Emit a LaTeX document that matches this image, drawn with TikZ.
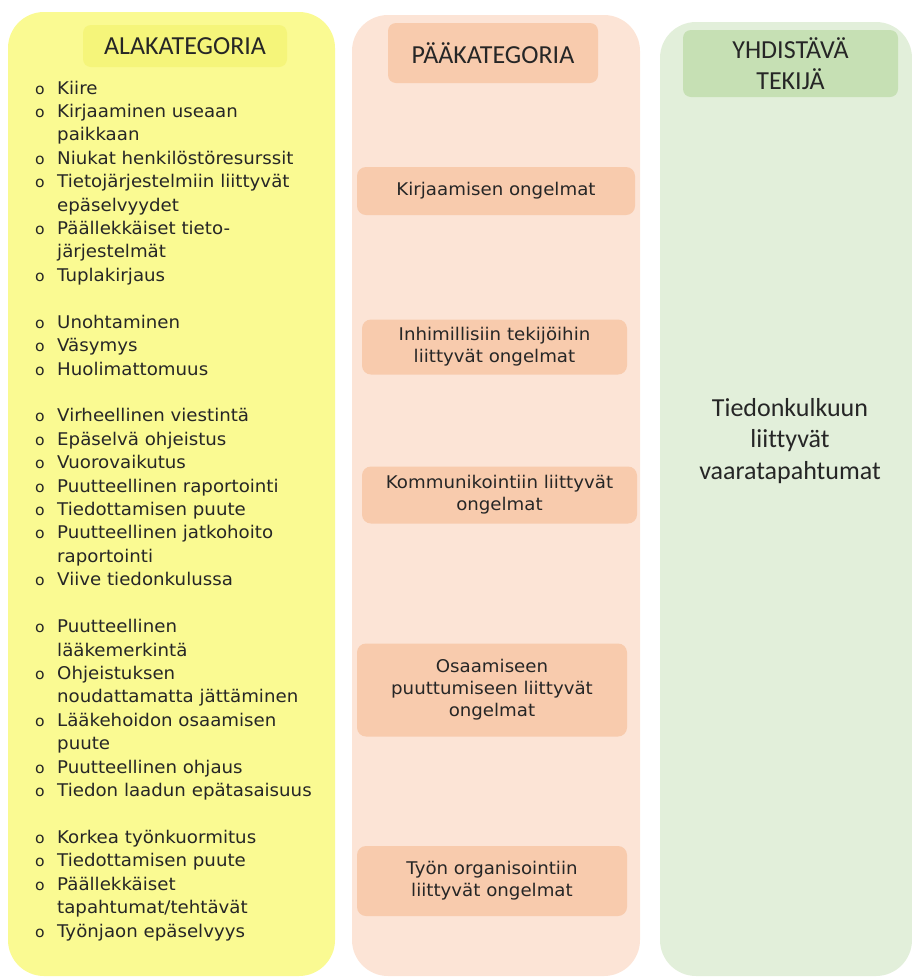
\documentclass[tikz,border=0pt]{standalone}
\usepackage{fontspec}
\setmainfont{DejaVu Sans}
\newfontfamily\hdfont[Ligatures=NoCommon]{Carlito}
\newfontfamily\lstfont[FakeStretch=1.04]{DejaVu Sans}
\usepackage{xcolor}
\usepackage{tikz}
\definecolor{yelc}{HTML}{FAFA92}
\definecolor{yelh}{HTML}{F5F57A}
\definecolor{pchc}{HTML}{FCE4D6}
\definecolor{pchb}{HTML}{F8CBAD}
\definecolor{grnc}{HTML}{E2EFDA}
\definecolor{grnh}{HTML}{C6E0B4}
\definecolor{txtc}{HTML}{262626}
\newcommand{\lbul}{{\fontsize{15}{15}\selectfont o}}
\tikzset{
  col/.style={rounded corners=36pt},
  hd/.style={rounded corners=8pt,align=center,inner sep=0pt,text=txtc,font=\hdfont\fontsize{26}{31}\selectfont},
  cat/.style={fill=pchb,rounded corners=9pt,align=center,inner sep=0pt,text=txtc,font=\lstfont\fontsize{17.5}{22}\selectfont}
}

\begin{document}
\begin{tikzpicture}[x=1pt,y=-1pt]
\useasboundingbox (0,0) rectangle (912,978);
% the three columns
\fill[yelc,col] (8,12) rectangle (335,976);
\fill[pchc,col] (352,15) rectangle (640,976);
\fill[grnc,col] (660,22) rectangle (912,976);
% headers
\node[hd,fill=yelh,minimum width=204pt,minimum height=42pt] (alah) at (185,46) {ALAKATEGORIA};
\node[hd,fill=pchb,minimum width=210pt,minimum height=60pt] (paah) at (493,53) {PÄÄKATEGORIA};
\node[hd,fill=grnh,minimum width=215pt,minimum height=67pt] (yhdh) at (790.5,63.5) {YHDISTÄVÄ\\TEKIJÄ};
% sub categories
\node[anchor=base west,inner sep=0pt,text=txtc,font=\lstfont\fontsize{17.5}{23.42}\selectfont] (lst) at (35,94) {%
\begin{tabular}[t]{@{}p{22pt}@{}l@{}}
\lbul & Kiire\\
\lbul & Kirjaaminen useaan\\
 & paikkaan\\
\lbul & Niukat henkilöstöresurssit\\
\lbul & Tietojärjestelmiin liittyvät\\
 & epäselvyydet\\
\lbul & Päällekkäiset tieto-\\
 & järjestelmät\\
\lbul & Tuplakirjaus\\
 & \\
\lbul & Unohtaminen\\
\lbul & Väsymys\\
\lbul & Huolimattomuus\\
 & \\
\lbul & Virheellinen viestintä\\
\lbul & Epäselvä ohjeistus\\
\lbul & Vuorovaikutus\\
\lbul & Puutteellinen raportointi\\
\lbul & Tiedottamisen puute\\
\lbul & Puutteellinen jatkohoito\\
 & raportointi\\
\lbul & Viive tiedonkulussa\\
 & \\
\lbul & Puutteellinen\\
 & lääkemerkintä\\
\lbul & Ohjeistuksen\\
 & noudattamatta jättäminen\\
\lbul & Lääkehoidon osaamisen\\
 & puute\\
\lbul & Puutteellinen ohjaus\\
\lbul & Tiedon laadun epätasaisuus\\
 & \\
\lbul & Korkea työnkuormitus\\
\lbul & Tiedottamisen puute\\
\lbul & Päällekkäiset\\
 & tapahtumat/tehtävät\\
\lbul & Työnjaon epäselvyys
\end{tabular}};
% main categories
\foreach \nm/\cx/\cy/\ww/\hh/\tx in {k1/496/191/278/48/{Kirjaamisen ongelmat},
  k2/494.5/347/265/55/{Inhimillisiin tekijöihin\\liittyvät ongelmat},
  k3/499.5/495/275/57/{Kommunikointiin liittyvät\\ongelmat},
  k4/492/690/270/93/{Osaamiseen\\puuttumiseen liittyvät\\ongelmat},
  k5/492/881/270/70/{Työn organisointiin\\liittyvät ongelmat}}
  \node[cat,minimum width=\ww pt,minimum height=\hh pt] (\nm) at (\cx,\cy) {\tx};
% joining factor
\node[align=center,text=txtc,font=\hdfont\fontsize{26}{31.5}\selectfont] (tdk) at (790,441) {Tiedonkulkuun\\liittyvät\\vaaratapahtumat};
\end{tikzpicture}
\end{document}
